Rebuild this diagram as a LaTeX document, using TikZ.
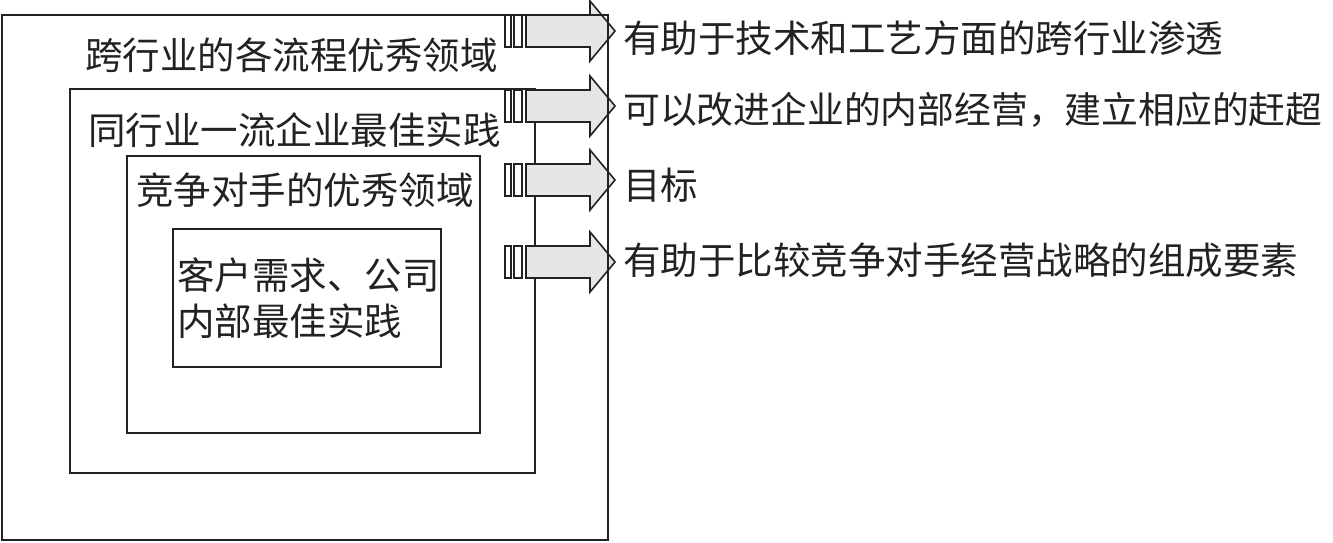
\documentclass[tikz,border=0pt]{standalone}
\usepackage{fontspec}
\setmainfont{Noto Sans CJK SC}
\definecolor{ln}{HTML}{222222}
\definecolor{af}{HTML}{E6E6E6}
\begin{document}
\begin{tikzpicture}[x=1pt,y=-1pt,
  boxline/.style={draw=ln,line width=1.8pt},
  lbl/.style={anchor=west,inner sep=0pt,font=\fontsize{37.5}{46}\selectfont,text=ln},
  bar/.style={draw=ln,line width=1.6pt,fill=af}]
\useasboundingbox (0,0) rectangle (1333,542);
% inner boxes
\draw[boxline] (70,89) rectangle (535,473);
\draw[boxline] (127,156) rectangle (480,433);
\draw[boxline] (173,229) rectangle (441,367);
% arrows
\foreach \yc in {31,106,180,262}{
  \draw[bar,fill=white] (505,\yc-16) rectangle (511,\yc+16);
  \draw[bar,fill=white] (514,\yc-16) rectangle (522,\yc+16);
  \draw[bar,line join=miter] (526,\yc-16) -- (590,\yc-16) -- (590,\yc-30) -- (615,\yc) -- (590,\yc+30) -- (590,\yc+16) -- (526,\yc+16) -- cycle;
}
% outer box
\draw[boxline] (2,15) rectangle (608,540);
% labels
\node[lbl] (l1) at (85,55) {跨行业的各流程优秀领域};
\node[lbl] (l2) at (88,130) {同行业一流企业最佳实践};
\node[lbl] (l3) at (136,190) {竞争对手的优秀领域};
\node[lbl] (l4) at (177,303) {\begin{tabular}{@{}l@{}}客户需求、公司\\内部最佳实践\end{tabular}};
\node[lbl] (r1) at (623,38) {有助于技术和工艺方面的跨行业渗透};
\node[lbl,font=\fontsize{36.8}{46}\selectfont] (r2) at (623,110) {可以改进企业的内部经营，建立相应的赶超};
\node[lbl] (r3) at (623,185) {目标};
\node[lbl] (r4) at (623,260) {有助于比较竞争对手经营战略的组成要素};
\end{tikzpicture}
\end{document}
